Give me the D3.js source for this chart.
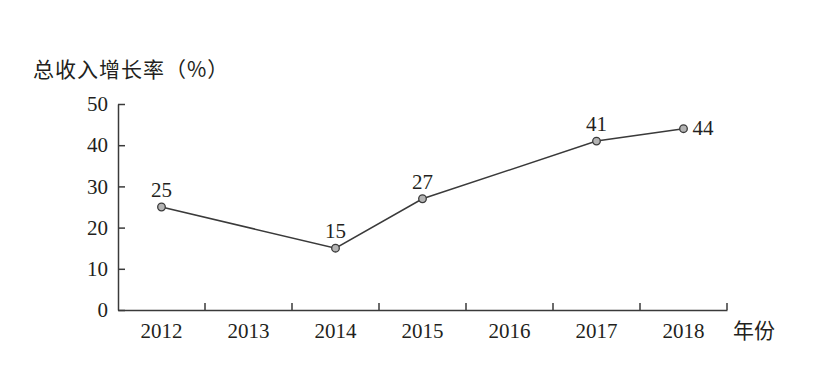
<!DOCTYPE html>
<html>
<head>
<meta charset="utf-8">
<script src="https://cdn.jsdelivr.net/npm/d3@7"></script>
<style>
  body { margin: 0; background: #fff; }
  text { fill: #231f20; }
</style>
</head>
<body>
<script>
const WIDTH = 831;
const HEIGHT = 371;

// categories on the x axis
var years = ["2012", "2013", "2014", "2015", "2016", "2017", "2018"];
// years that have a value, and the values (%)
var pointYears = ["2012", "2014", "2015", "2017", "2018"];
var growth = [25, 15, 27, 41, 44];
var yTicks = [0, 10, 20, 30, 40, 50];

var serif = "'Liberation Serif', 'DejaVu Serif', serif";
var cjk = "'Noto Sans CJK SC', sans-serif";

var svg = d3.select("body").append("svg")
    .attr("width", WIDTH)
    .attr("height", HEIGHT);

var x = d3.scaleBand().domain(years).range([118, 727]).padding(0);
var y = d3.scaleLinear().domain([0, 50]).range([310, 104]);

// y axis, ticks pointing inward
var yAxis = svg.append("g")
    .attr("transform", "translate(118,0)")
    .call(d3.axisLeft(y).tickValues(yTicks).tickSizeInner(-7).tickSizeOuter(0).tickPadding(10));
yAxis.select(".domain").attr("stroke", "#3a3a3a").attr("stroke-width", 1.5);
yAxis.selectAll(".tick line").attr("stroke", "#3a3a3a").attr("stroke-width", 1.5);
yAxis.selectAll(".tick text")
    .attr("x", -10)
    .style("font-family", serif).style("font-size", "21px").attr("fill", "#231f20");

// x axis: labels centred in bands, ticks on band edges pointing up
var xAxis = svg.append("g")
    .attr("transform", "translate(0,310)")
    .call(d3.axisBottom(x).tickSize(0).tickPadding(13));
xAxis.select(".domain").attr("stroke", "#3a3a3a").attr("stroke-width", 1.5);
xAxis.selectAll(".tick text")
    .style("font-family", serif).style("font-size", "21px").attr("fill", "#231f20");

var edges = years.slice(1).map(function (d) { return x(d); }).concat([x.range()[1]]);
svg.append("g").selectAll("line")
    .data(edges)
    .join("line")
    .attr("x1", function (d) { return d; })
    .attr("x2", function (d) { return d; })
    .attr("y1", 310)
    .attr("y2", 303)
    .attr("stroke", "#3a3a3a")
    .attr("stroke-width", 1.5);

// axis titles
svg.append("text")
    .attr("x", 33).attr("y", 77)
    .style("font-family", cjk).style("font-size", "21px")
    .style("letter-spacing", "1px")
    .text("总收入增长率（%）");

svg.append("text")
    .attr("x", 733).attr("y", 338)
    .style("font-family", cjk).style("font-size", "21px")
    .text("年份");

// line + markers
var pts = pointYears.map(function (d, i) {
    return { year: d, value: growth[i] };
});
var cx = function (d) { return x(d.year) + x.bandwidth() / 2; };

svg.append("path")
    .datum(pts)
    .attr("fill", "none")
    .attr("stroke", "#3a3a3a")
    .attr("stroke-width", 1.5)
    .attr("d", d3.line().x(cx).y(function (d) { return y(d.value); }));

svg.append("g").selectAll("circle")
    .data(pts)
    .join("circle")
    .attr("cx", cx)
    .attr("cy", function (d) { return y(d.value); })
    .attr("r", 3.8)
    .attr("fill", "#b3b3b3")
    .attr("stroke", "#3a3a3a")
    .attr("stroke-width", 1.3);

// value labels: last one to the right, others above
svg.append("g").selectAll("text")
    .data(pts)
    .join("text")
    .attr("x", function (d, i) { return i === pts.length - 1 ? cx(d) + 9 : cx(d); })
    .attr("y", function (d, i) { return i === pts.length - 1 ? y(d.value) + 6 : y(d.value) - 10; })
    .attr("text-anchor", function (d, i) { return i === pts.length - 1 ? "start" : "middle"; })
    .style("font-family", serif).style("font-size", "21px")
    .text(function (d) { return d.value; });
</script>
</body>
</html>
